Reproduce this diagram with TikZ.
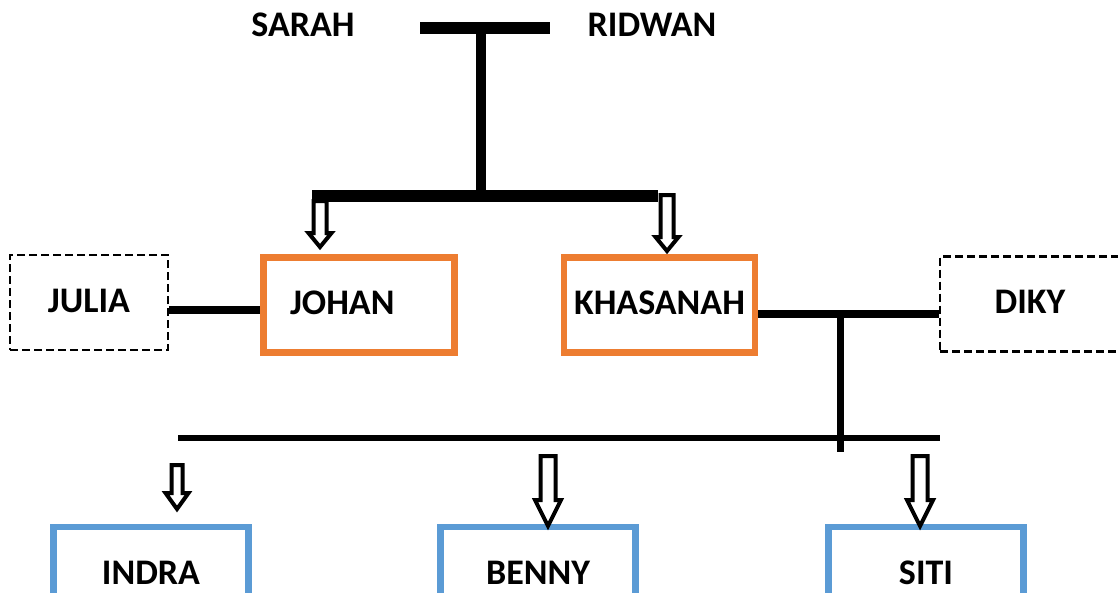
\documentclass[tikz,border=0pt]{standalone}
\usepackage{fontspec}
\setmainfont{Carlito}

\definecolor{kidorange}{HTML}{ED7D31}
\definecolor{grandblue}{HTML}{5B9BD5}

\tikzset{pics/blockdown/.style n args={4}{code={%
  % #1 length, #2 half shaft, #3 half head, #4 head length
  \draw[line width=4pt,fill=white,line join=miter]
    (-#2,0) -- (-#2,#1-#4) -- (-#3,#1-#4) -- (0,#1) -- (#3,#1-#4) -- (#2,#1-#4) -- (#2,0) -- cycle;}}}

\begin{document}
\begin{tikzpicture}
[x=1pt,y=-1pt,%
  every node/.style={font=\fontsize{36}{40}\selectfont\bfseries,inner sep=0pt},%
  bar/.style={line width=12pt},%
  link/.style={line width=7.5pt},%
  kidbox/.style={draw=kidorange,line width=6.5pt,minimum width=191pt,minimum height=95pt},%
  grandbox/.style={draw=grandblue,line width=6.5pt,minimum width=195pt,minimum height=95pt},%
  spousebox/.style={draw,line width=2.2pt,dash pattern=on 8pt off 4pt,minimum height=95pt}]
\useasboundingbox (0,0) rectangle (1118,592);
\clip (0,0) rectangle (1118,592);
% grandparents
\node (sarah) at (303,25) {SARAH};
\node (ridwan) at (652,25) {RIDWAN};
\coordinate (wed-l) at (420,28);
\coordinate (wed-r) at (550,28);
\coordinate (stem-top) at (481,34);
\coordinate (stem-bot) at (481,196);
\coordinate (fork-l) at (312,196);
\coordinate (fork-r) at (658,196);
\draw[bar] (wed-l) -- (wed-r);
\draw[line width=10pt] (stem-top) -- (stem-bot);
\draw[bar] (fork-l) -- (fork-r);
% children
\node[kidbox,text width=138pt,align=left] (johan) at (359,305) {\raisebox{5pt}{JOHAN}};
\node[kidbox] (khasanah) at (659.5,305) {\raisebox{5pt}{KHASANAH}};
\pic (arr-johan) at (320,201) {blockdown={46}{6.5}{11.5}{14}};
\pic (arr-khasanah) at (667,195) {blockdown={56}{6.5}{11.5}{14}};
% spouses
\node[spousebox,minimum width=158pt] (julia) at (89,302.5) {\raisebox{3pt}{JULIA}};
\node[spousebox,minimum width=180pt] (diky) at (1030,304) {\raisebox{4pt}{DIKY}};
\draw[link] (julia.east |- 0,310) -- (johan.west |- 0,310);
\draw[link] (khasanah.east |- 0,314) -- (diky.west |- 0,314);
% grandchildren
\coordinate (drop-top) at (840,310);
\coordinate (drop-bot) at (840,452);
\coordinate (line-l) at (178,438);
\coordinate (line-r) at (940,438);
\draw[line width=7pt] (drop-top) -- (drop-bot);
\draw[line width=6.5pt] (line-l) -- (line-r);
\node[grandbox] (indra) at (151,574.5) {\raisebox{3pt}{INDRA}};
\node[grandbox] (benny) at (538,574.5) {\raisebox{3pt}{BENNY}};
\node[grandbox] (siti) at (926,574.5) {\raisebox{3pt}{SITI}};
\pic (arr-indra) at (177,465) {blockdown={44}{5.5}{11.5}{16}};
\pic (arr-benny) at (548,456) {blockdown={70}{7.5}{13}{26}};
\pic (arr-siti) at (920,456) {blockdown={70}{7.5}{13}{26}};
\end{tikzpicture}
\end{document}
